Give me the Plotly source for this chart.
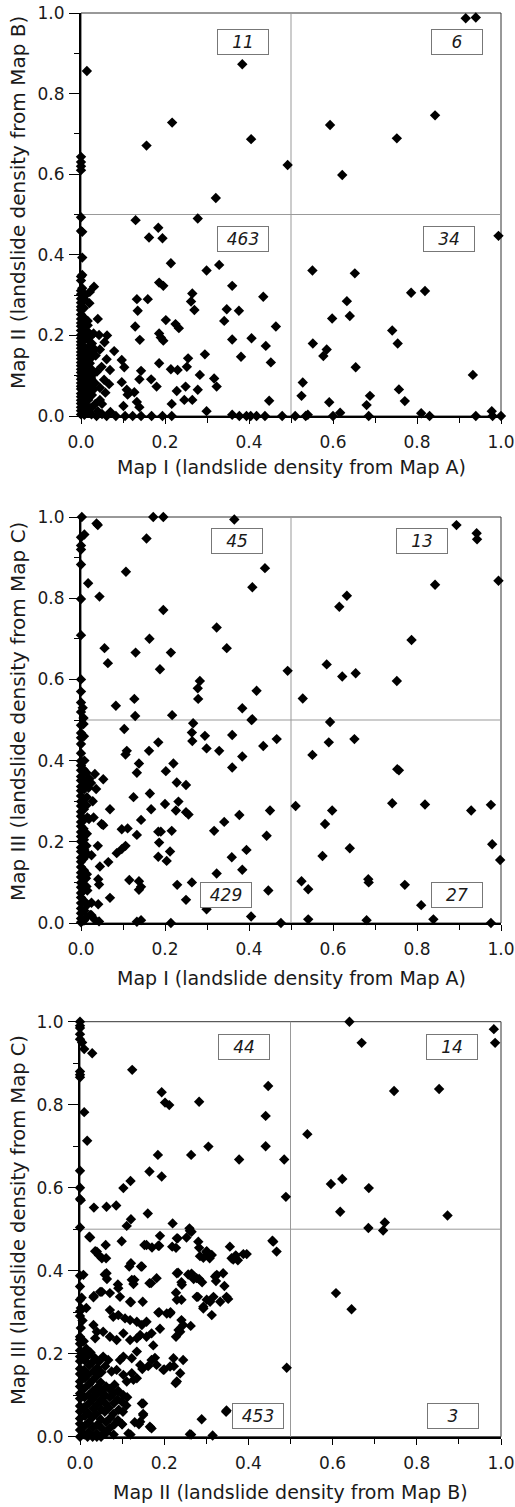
import plotly.graph_objects as go

# ---------------- data ----------------
tick_vals = [0.0, 0.2, 0.4, 0.6, 0.8, 1.0]
tick_text = ["0.0", "0.2", "0.4", "0.6", "0.8", "1.0"]
minor_vals = [0.1, 0.3, 0.5, 0.7, 0.9]
threshold = 0.5

x_titles = ["Map I (landslide density from Map A)",
            "Map I (landslide density from Map A)",
            "Map II (landslide density from Map B)"]
y_titles = ["Map II (landslide density from Map B)",
            "Map III (landslide density from Map C)",
            "Map III (landslide density from Map C)"]

# quadrant counts: UL, UR, LL, LR
p1_counts = ["11", "6", "463", "34"]
p2_counts = ["45", "13", "429", "27"]
p3_counts = ["44", "14", "453", "3"]

# ---- Plot 1: Map I (x) vs Map II (y)
p1_ul = [(0.014, 0.856), (0.0, 0.643), (0.0, 0.62), (0.0, 0.61), (0.0, 0.63), (0.156, 0.671),
         (0.217, 0.728), (0.384, 0.873), (0.405, 0.687), (0.321, 0.541), (0.492, 0.623)]
p1_ur = [(0.916, 0.987), (0.94, 0.989), (0.593, 0.722), (0.622, 0.598), (0.752, 0.689), (0.843, 0.746)]
p1_lr = [(0.994, 0.447), (0.551, 0.361), (0.652, 0.354), (0.633, 0.285), (0.640, 0.248), (0.598, 0.242),
         (0.552, 0.180), (0.585, 0.165), (0.577, 0.149), (0.654, 0.121), (0.786, 0.306), (0.819, 0.31),
         (0.741, 0.212), (0.754, 0.18), (0.757, 0.066), (0.771, 0.037), (0.933, 0.102), (0.528, 0.083),
         (0.525, 0.05), (0.591, 0.034), (0.688, 0.05), (0.680, 0.027), (0.617, 0.008), (0.81, 0.007),
         (0.978, 0.012), (0.51, 0.0), (0.535, 0.0), (0.54, 0.003), (0.60, 0.0), (0.685, 0.0),
         (0.83, 0.0), (0.94, 0.0), (0.98, 0.0), (1.0, 0.0)]
p1_ll = [(0.0, 0.493), (0.0, 0.459), (0.130, 0.486), (0.162, 0.443), (0.184, 0.467), (0.194, 0.441),
         (0.278, 0.49), (0.214, 0.379), (0.299, 0.361), (0.329, 0.375), (0.186, 0.331), (0.196, 0.323),
         (0.360, 0.323), (0.265, 0.304), (0.262, 0.284), (0.270, 0.263), (0.434, 0.296), (0.347, 0.265),
         (0.341, 0.236), (0.376, 0.261), (0.464, 0.222), (0.44, 0.174), (0.452, 0.133), (0.36, 0.19),
         (0.406, 0.193), (0.381, 0.147), (0.448, 0.038), (0.202, 0.238), (0.225, 0.228), (0.233, 0.218),
         (0.159, 0.29), (0.133, 0.29), (0.135, 0.261), (0.14, 0.189), (0.129, 0.222), (0.186, 0.205),
         (0.19, 0.195), (0.196, 0.187), (0.186, 0.131), (0.167, 0.091), (0.180, 0.073), (0.214, 0.116),
         (0.230, 0.114), (0.255, 0.143), (0.252, 0.122), (0.295, 0.153), (0.283, 0.102), (0.317, 0.093),
         (0.323, 0.073), (0.249, 0.073), (0.228, 0.062), (0.216, 0.03), (0.246, 0.04), (0.265, 0.04),
         (0.278, 0.065), (0.299, 0.012),
         (0.037, 0.0), (0.061, 0.0), (0.083, 0.0), (0.105, 0.0), (0.123, 0.0), (0.143, 0.0), (0.168, 0.0),
         (0.194, 0.0), (0.216, 0.0), (0.36, 0.003), (0.377, 0.0), (0.394, 0.0), (0.404, 0.0), (0.418, 0.0),
         (0.438, 0.0), (0.479, 0.0),
         (0.003, 0.457), (0.003, 0.393), (0.003, 0.35), (0.003, 0.317), (0.021, 0.308), (0.031, 0.321),
         (0.04, 0.241), (0.043, 0.201), (0.056, 0.183), (0.079, 0.161), (0.032, 0.166), (0.035, 0.15),
         (0.061, 0.141), (0.049, 0.122), (0.069, 0.114), (0.097, 0.139), (0.103, 0.121), (0.067, 0.079),
         (0.097, 0.084), (0.109, 0.065), (0.111, 0.053), (0.127, 0.059), (0.133, 0.035), (0.101, 0.025),
         (0.139, 0.022), (0.143, 0.112), (0.139, 0.091), (0.016, 0.236), (0.021, 0.131), (0.025, 0.1),
         (0.029, 0.065), (0.017, 0.04), (0.034, 0.03), (0.045, 0.04),
         (0.0, 0.004), (0.0, 0.013), (0.0, 0.022), (0.0, 0.031), (0.0, 0.039), (0.0, 0.048), (0.0, 0.056),
         (0.0, 0.067), (0.0, 0.074), (0.0, 0.082), (0.0, 0.091), (0.0, 0.099), (0.0, 0.108), (0.0, 0.116),
         (0.0, 0.125), (0.0, 0.133), (0.0, 0.142), (0.0, 0.151), (0.0, 0.159), (0.0, 0.168), (0.0, 0.176),
         (0.0, 0.184), (0.0, 0.193), (0.0, 0.201), (0.0, 0.212), (0.0, 0.223), (0.0, 0.231), (0.0, 0.241),
         (0.0, 0.252), (0.0, 0.263), (0.0, 0.271), (0.0, 0.281), (0.0, 0.291), (0.0, 0.302), (0.0, 0.311),
         (0.0, 0.336), (0.0, 0.346),
         (0.008, 0.003), (0.008, 0.018), (0.009, 0.034), (0.008, 0.05), (0.007, 0.062), (0.008, 0.078),
         (0.009, 0.093), (0.008, 0.11), (0.007, 0.127), (0.008, 0.144), (0.009, 0.16), (0.008, 0.171),
         (0.007, 0.188), (0.008, 0.205), (0.009, 0.22), (0.008, 0.243), (0.007, 0.268), (0.008, 0.29),
         (0.016, 0.008), (0.015, 0.025), (0.017, 0.044), (0.016, 0.058), (0.015, 0.07), (0.016, 0.088),
         (0.017, 0.104), (0.016, 0.12), (0.015, 0.137), (0.016, 0.152), (0.017, 0.17), (0.016, 0.19),
         (0.015, 0.21), (0.016, 0.225),
         (0.025, 0.004), (0.024, 0.02), (0.026, 0.052), (0.025, 0.075), (0.024, 0.094), (0.026, 0.115),
         (0.025, 0.145), (0.024, 0.16), (0.026, 0.18), (0.025, 0.2),
         (0.04, 0.012), (0.05, 0.005), (0.045, 0.07), (0.055, 0.09), (0.038, 0.11), (0.05, 0.03),
         (0.07, 0.01), (0.033, 0.082), (0.058, 0.058), (0.011, 0.3), (0.02, 0.28), (0.03, 0.205),
         (0.062, 0.2), (0.045, 0.165)]

# ---- Plot 2: Map I (x) vs Map III (y)
p2_ul = [(0.002, 1.0), (0.037, 0.984), (0.04, 0.98), (0.008, 0.957), (0.0, 0.93), (0.0, 0.92),
         (0.0, 0.883), (0.017, 0.837), (0.0, 0.798), (0.044, 0.804), (0.0, 0.709), (0.172, 1.0),
         (0.196, 1.0), (0.365, 0.994), (0.156, 0.947), (0.107, 0.865), (0.438, 0.874), (0.408, 0.827),
         (0.196, 0.771), (0.323, 0.728), (0.163, 0.7), (0.347, 0.677), (0.056, 0.677), (0.13, 0.666),
         (0.214, 0.666), (0.064, 0.64), (0.188, 0.625), (0.283, 0.596), (0.278, 0.578), (0.279, 0.552),
         (0.492, 0.621), (0.418, 0.572), (0.127, 0.552), (0.083, 0.535), (0.129, 0.51), (0.217, 0.512),
         (0.384, 0.529), (0.408, 0.502), (0.0, 0.57), (0.0, 0.543), (0.0, 0.52), (0.006, 0.505),
         (0.0, 0.95), (0.0, 0.6), (0.004, 0.53)]
p2_ur = [(0.894, 0.98), (0.942, 0.96), (0.943, 0.945), (0.994, 0.843), (0.843, 0.833), (0.633, 0.806),
         (0.615, 0.779), (0.787, 0.697), (0.585, 0.637), (0.622, 0.607), (0.654, 0.615), (0.752, 0.596),
         (0.528, 0.553)]
p2_lr = [(0.593, 0.495), (0.59, 0.445), (0.651, 0.453), (0.551, 0.414), (0.753, 0.379), (0.757, 0.376),
         (0.511, 0.288), (0.598, 0.277), (0.581, 0.244), (0.64, 0.184), (0.575, 0.165), (0.741, 0.295),
         (0.819, 0.292), (0.929, 0.277), (0.976, 0.291), (0.979, 0.194), (0.998, 0.155), (0.525, 0.103),
         (0.541, 0.083), (0.684, 0.108), (0.685, 0.1), (0.771, 0.094), (0.81, 0.044), (0.541, 0.009),
         (0.68, 0.007), (0.839, 0.009), (0.976, 0.0)]
p2_ll = [(0.103, 0.478), (0.267, 0.492), (0.264, 0.469), (0.265, 0.448), (0.295, 0.461), (0.299, 0.43),
         (0.329, 0.424), (0.36, 0.463), (0.384, 0.41), (0.36, 0.383), (0.406, 0.5), (0.434, 0.436),
         (0.466, 0.453), (0.109, 0.424), (0.106, 0.415), (0.162, 0.424), (0.184, 0.445), (0.138, 0.393),
         (0.133, 0.37), (0.22, 0.393), (0.202, 0.374), (0.228, 0.346), (0.25, 0.34), (0.164, 0.319),
         (0.125, 0.31), (0.2, 0.293), (0.232, 0.299), (0.226, 0.277), (0.25, 0.273), (0.256, 0.267),
         (0.167, 0.28), (0.143, 0.254), (0.069, 0.28), (0.053, 0.354), (0.033, 0.367), (0.036, 0.33),
         (0.049, 0.244), (0.097, 0.231), (0.111, 0.233), (0.133, 0.217), (0.184, 0.225), (0.19, 0.225),
         (0.216, 0.227), (0.186, 0.198), (0.212, 0.176), (0.184, 0.163), (0.204, 0.153), (0.106, 0.19),
         (0.097, 0.182), (0.085, 0.172), (0.065, 0.15), (0.045, 0.139), (0.025, 0.167), (0.317, 0.227),
         (0.341, 0.249), (0.377, 0.266), (0.45, 0.277), (0.442, 0.215), (0.394, 0.18), (0.359, 0.162),
         (0.384, 0.131), (0.323, 0.122), (0.264, 0.1), (0.229, 0.094), (0.25, 0.057), (0.299, 0.034),
         (0.405, 0.016), (0.446, 0.08), (0.115, 0.106), (0.138, 0.103), (0.143, 0.089), (0.138, 0.082),
         (0.069, 0.062), (0.041, 0.108), (0.043, 0.095), (0.041, 0.046), (0.025, 0.019), (0.033, 0.008),
         (0.043, 0.004), (0.133, 0.003), (0.143, 0.007), (0.214, 0.0), (0.476, 0.0), (0.053, 0.241),
         (0.019, 0.256), (0.04, 0.19), (0.018, 0.333), (0.028, 0.3), (0.03, 0.26), (0.024, 0.345),
         (0.02, 0.355), (0.022, 0.02), (0.025, 0.05), (0.012, 0.11), (0.015, 0.08),
         (0.0, 0.002), (0.0, 0.011), (0.0, 0.024), (0.0, 0.036), (0.0, 0.049), (0.0, 0.063), (0.0, 0.074),
         (0.0, 0.088), (0.0, 0.099), (0.0, 0.113), (0.0, 0.124), (0.0, 0.138), (0.0, 0.151), (0.0, 0.161),
         (0.0, 0.176), (0.0, 0.186), (0.0, 0.201), (0.0, 0.213), (0.0, 0.224), (0.0, 0.238), (0.0, 0.249),
         (0.0, 0.263), (0.0, 0.274), (0.0, 0.288), (0.0, 0.299), (0.0, 0.313), (0.0, 0.326), (0.0, 0.336),
         (0.0, 0.351), (0.0, 0.361), (0.0, 0.376), (0.0, 0.388), (0.0, 0.399), (0.0, 0.418), (0.0, 0.441),
         (0.0, 0.456), (0.0, 0.468), (0.0, 0.487),
         (0.007, 0.006), (0.008, 0.03), (0.007, 0.055), (0.006, 0.08), (0.008, 0.108), (0.007, 0.13),
         (0.006, 0.158), (0.008, 0.18), (0.007, 0.205), (0.006, 0.232), (0.008, 0.255), (0.007, 0.28),
         (0.006, 0.305), (0.008, 0.33), (0.007, 0.352), (0.006, 0.378), (0.008, 0.4), (0.007, 0.46),
         (0.006, 0.49),
         (0.014, 0.015), (0.015, 0.045), (0.013, 0.09), (0.014, 0.12), (0.015, 0.17), (0.013, 0.19),
         (0.014, 0.22), (0.015, 0.26), (0.013, 0.29), (0.014, 0.31), (0.015, 0.34), (0.013, 0.37)]

# ---- Plot 3: Map II (x) vs Map III (y)
p3_ul = [(0.0, 1.0), (0.0, 0.99), (0.0, 0.985), (0.0, 0.958), (0.01, 0.934), (0.029, 0.924),
         (0.0, 0.872), (0.0, 0.866), (0.01, 0.782), (0.017, 0.713), (0.0, 0.641), (0.0, 0.573),
         (0.002, 0.57), (0.033, 0.552), (0.063, 0.554), (0.086, 0.557), (0.103, 0.599), (0.12, 0.616),
         (0.124, 0.884), (0.165, 0.639), (0.185, 0.679), (0.194, 0.627), (0.194, 0.83), (0.202, 0.805),
         (0.212, 0.799), (0.283, 0.807), (0.264, 0.679), (0.305, 0.699), (0.378, 0.668), (0.447, 0.845),
         (0.441, 0.773), (0.441, 0.7), (0.485, 0.668), (0.489, 0.578), (0.161, 0.538), (0.121, 0.524),
         (0.111, 0.508), (0.22, 0.514), (0.0, 0.504), (0.26, 0.502), (0.0, 0.97), (0.0, 0.6),
         (0.0, 0.88), (0.005, 0.95)]
p3_ur = [(0.64, 1.0), (0.669, 0.949), (0.983, 0.982), (0.986, 0.949), (0.746, 0.833), (0.853, 0.838),
         (0.54, 0.729), (0.596, 0.609), (0.623, 0.621), (0.686, 0.599), (0.618, 0.542), (0.873, 0.533),
         (0.724, 0.516), (0.685, 0.503)]
p3_lr = [(0.608, 0.346), (0.645, 0.307), (0.72, 0.497)]
p3_ll = [(0.491, 0.166), (0.459, 0.47), (0.467, 0.446), (0.396, 0.44), (0.356, 0.458), (0.36, 0.43),
         (0.375, 0.425), (0.37, 0.437), (0.352, 0.332), (0.333, 0.325), (0.321, 0.386), (0.323, 0.375),
         (0.309, 0.325), (0.313, 0.293), (0.293, 0.309), (0.283, 0.455), (0.285, 0.435), (0.3, 0.445),
         (0.308, 0.43), (0.265, 0.494), (0.253, 0.48), (0.232, 0.478), (0.219, 0.458), (0.19, 0.484),
         (0.188, 0.46), (0.153, 0.462), (0.171, 0.456), (0.099, 0.471), (0.022, 0.482), (0.04, 0.446),
         (0.045, 0.437), (0.061, 0.462), (0.062, 0.43), (0.147, 0.41), (0.121, 0.418), (0.129, 0.378),
         (0.127, 0.368), (0.063, 0.394), (0.064, 0.38), (0.048, 0.349), (0.032, 0.336), (0.071, 0.346),
         (0.091, 0.358), (0.119, 0.325), (0.149, 0.325), (0.165, 0.37), (0.182, 0.382), (0.206, 0.297),
         (0.215, 0.3), (0.188, 0.3), (0.23, 0.394), (0.241, 0.372), (0.228, 0.347), (0.241, 0.33),
         (0.234, 0.257), (0.241, 0.281), (0.263, 0.267), (0.265, 0.393), (0.27, 0.38), (0.283, 0.38),
         (0.29, 0.372), (0.277, 0.337), (0.245, 0.185), (0.222, 0.189), (0.223, 0.17), (0.238, 0.153),
         (0.227, 0.129), (0.2, 0.162), (0.19, 0.26), (0.17, 0.249), (0.174, 0.22), (0.178, 0.19),
         (0.162, 0.17), (0.148, 0.163), (0.135, 0.205), (0.347, 0.06), (0.289, 0.042), (0.264, 0.005),
         (0.315, 0.003), (0.15, 0.08), (0.15, 0.055), (0.14, 0.03), (0.17, 0.02), (0.13, 0.035),
         (0.12, 0.005), (0.1, 0.03), (0.063, 0.01),
         (0.024, 0.48), (0.036, 0.447), (0.052, 0.43), (0.158, 0.462), (0.186, 0.46), (0.23, 0.478),
         (0.228, 0.455), (0.261, 0.496), (0.281, 0.47), (0.301, 0.447), (0.293, 0.431), (0.313, 0.438),
         (0.364, 0.427), (0.388, 0.44), (0.457, 0.472), (0.117, 0.41), (0.145, 0.41), (0.008, 0.39),
         (0.059, 0.391), (0.09, 0.367), (0.123, 0.378), (0.169, 0.37), (0.233, 0.395), (0.257, 0.391),
         (0.242, 0.366), (0.277, 0.382), (0.325, 0.39), (0.34, 0.394), (0.343, 0.363), (0.033, 0.339),
         (0.052, 0.349), (0.095, 0.337), (0.121, 0.324), (0.23, 0.33), (0.28, 0.337), (0.301, 0.33),
         (0.317, 0.337), (0.293, 0.313), (0.348, 0.337), (0.015, 0.31), (0.071, 0.305), (0.079, 0.289),
         (0.091, 0.293), (0.107, 0.285), (0.119, 0.281), (0.186, 0.299), (0.214, 0.297), (0.147, 0.269),
         (0.158, 0.277), (0.135, 0.277), (0.228, 0.241), (0.245, 0.269), (0.238, 0.253), (0.032, 0.269),
         (0.04, 0.253), (0.055, 0.253), (0.036, 0.237), (0.071, 0.241), (0.087, 0.233), (0.103, 0.249),
         (0.119, 0.233), (0.135, 0.237), (0.143, 0.245), (0.158, 0.241), (0.055, 0.193), (0.067, 0.185),
         (0.095, 0.185), (0.103, 0.193), (0.123, 0.189), (0.143, 0.173), (0.17, 0.185), (0.182, 0.173),
         (0.198, 0.161), (0.214, 0.169), (0.23, 0.133), (0.075, 0.157), (0.087, 0.161), (0.103, 0.149),
         (0.123, 0.153), (0.127, 0.137), (0.111, 0.133), (0.135, 0.141), (0.147, 0.08), (0.15, 0.052),
         (0.143, 0.036), (0.166, 0.024), (0.115, 0.008), (0.348, 0.063), (0.261, 0.006),
         (0.0, 0.0), (0.0, 0.016), (0.0, 0.031), (0.0, 0.044), (0.0, 0.061), (0.0, 0.074), (0.0, 0.092),
         (0.0, 0.104), (0.0, 0.121), (0.0, 0.133), (0.0, 0.151), (0.0, 0.164), (0.0, 0.182), (0.0, 0.193),
         (0.0, 0.208), (0.0, 0.234), (0.0, 0.241), (0.0, 0.291), (0.0, 0.302), (0.0, 0.33), (0.0, 0.362),
         (0.0, 0.388), (0.002, 0.31), (0.004, 0.335), (0.0, 0.224), (0.002, 0.262),
         (0.01, 0.005), (0.011, 0.026), (0.012, 0.05), (0.01, 0.071), (0.011, 0.095), (0.01, 0.116),
         (0.012, 0.141), (0.01, 0.161), (0.011, 0.184), (0.012, 0.2),
         (0.02, 0.011), (0.021, 0.035), (0.019, 0.058), (0.022, 0.081), (0.02, 0.1), (0.021, 0.126),
         (0.019, 0.15), (0.022, 0.172), (0.02, 0.196),
         (0.03, 0.0), (0.031, 0.022), (0.029, 0.046), (0.032, 0.068), (0.03, 0.09), (0.031, 0.111),
         (0.029, 0.135), (0.032, 0.158), (0.03, 0.18),
         (0.04, 0.008), (0.042, 0.03), (0.039, 0.055), (0.041, 0.078), (0.04, 0.101), (0.042, 0.12),
         (0.039, 0.145), (0.041, 0.166),
         (0.05, 0.0), (0.052, 0.02), (0.049, 0.042), (0.051, 0.066), (0.05, 0.088), (0.052, 0.11),
         (0.049, 0.131), (0.051, 0.155),
         (0.06, 0.01), (0.062, 0.035), (0.059, 0.06), (0.061, 0.08), (0.06, 0.1), (0.062, 0.121),
         (0.07, 0.02), (0.072, 0.045), (0.069, 0.07), (0.071, 0.095), (0.07, 0.115),
         (0.08, 0.005), (0.082, 0.03), (0.079, 0.055), (0.081, 0.081), (0.08, 0.104), (0.082, 0.125),
         (0.09, 0.04), (0.092, 0.065), (0.089, 0.09), (0.091, 0.11),
         (0.1, 0.03), (0.102, 0.06), (0.099, 0.085), (0.103, 0.1), (0.11, 0.075), (0.112, 0.095),
         (0.015, 0.212), (0.025, 0.203), (0.035, 0.19), (0.045, 0.181), (0.06, 0.17), (0.009, 0.23),
         (0.018, 0.0), (0.04, 0.0), (0.006, 0.28)]

# ---------------- figure ----------------
W, H = 515, 1507
FONT = "DejaVu Sans"
TXT = "#1a1a1a"

plots = [
    dict(pts=p1_ul + p1_ur + p1_lr + p1_ll, counts=p1_counts,
         xdom=[81 / W, 501 / W], ydom=[1 - 416 / H, 1 - 13 / H],
         cpos=[(0.386, 0.928), (0.895, 0.928), (0.386, 0.44), (0.875, 0.44)],
         xt_y=1 - 467 / H, yt_y=1 - 203 / H),
    dict(pts=p2_ul + p2_ur + p2_lr + p2_ll, counts=p2_counts,
         xdom=[81 / W, 501 / W], ydom=[1 - 923 / H, 1 - 517 / H],
         cpos=[(0.371, 0.941), (0.813, 0.941), (0.346, 0.068), (0.895, 0.068)],
         xt_y=1 - 978 / H, yt_y=1 - 712 / H),
    dict(pts=p3_ul + p3_ur + p3_lr + p3_ll, counts=p3_counts,
         xdom=[80 / W, 501 / W], ydom=[1 - 1436.7 / H, 1 - 1021.7 / H],
         cpos=[(0.39, 0.94), (0.884, 0.94), (0.423, 0.05), (0.886, 0.05)],
         xt_y=1 - 1491.5 / H, yt_y=1 - 1220 / H),
]

fig = go.Figure()
annotations = []
shapes = []
layout_axes = {}

for i, p in enumerate(plots):
    n = "" if i == 0 else str(i + 1)
    xa, ya = "x" + n, "y" + n
    xs = [q[0] for q in p["pts"]]
    ys = [q[1] for q in p["pts"]]
    fig.add_trace(go.Scatter(
        x=xs, y=ys, mode="markers", xaxis=xa, yaxis=ya, cliponaxis=False,
        marker=dict(symbol="diamond", size=8, color="black", line=dict(width=0)),
        showlegend=False, hoverinfo="skip"))

    common = dict(range=[0, 1], showgrid=False, zeroline=False, showline=True,
                  linecolor="black", linewidth=2, ticks="outside", tickcolor="black",
                  tickwidth=1, tickvals=tick_vals, ticktext=tick_text,
                  tickfont=dict(family=FONT, size=17, color=TXT),
                  minor=dict(tickvals=minor_vals, ticks="outside", ticklen=5,
                             tickcolor="black", tickwidth=1))
    layout_axes["xaxis" + n] = dict(common, domain=p["xdom"], anchor=ya, ticklen=6,
                                    ticklabelstandoff=4)
    layout_axes["yaxis" + n] = dict(common, domain=p["ydom"], anchor=xa, ticklen=10,
                                    ticklabelstandoff=1)

    # thin frame
    shapes.append(dict(type="rect", xref=xa + " domain", yref=ya + " domain",
                       x0=0, x1=1, y0=0, y1=1, line=dict(color="#333", width=1), layer="below"))
    # quadrant lines
    shapes.append(dict(type="line", xref=xa, yref=ya + " domain", x0=threshold, x1=threshold,
                       y0=0, y1=1, line=dict(color="#999", width=1), layer="below"))
    shapes.append(dict(type="line", xref=xa + " domain", yref=ya, x0=0, x1=1,
                       y0=threshold, y1=threshold, line=dict(color="#999", width=1), layer="below"))

    # quadrant counts
    for txt, (cx, cy) in zip(p["counts"], p["cpos"]):
        annotations.append(dict(
            x=cx, y=cy, xref=xa, yref=ya, text=txt, showarrow=False,
            font=dict(family=FONT, size=17, color=TXT, style="italic"),
            width=46, height=20, borderpad=2, bordercolor="#777", borderwidth=1,
            bgcolor="white", xanchor="center", yanchor="middle"))

    # axis titles
    annotations.append(dict(
        x=(p["xdom"][0] + p["xdom"][1]) / 2, y=p["xt_y"], xref="paper", yref="paper",
        text=x_titles[i], showarrow=False, xanchor="center", yanchor="middle",
        font=dict(family=FONT, size=19, color=TXT)))
    annotations.append(dict(
        x=18 / W, y=p["yt_y"], xref="paper", yref="paper", text=y_titles[i],
        showarrow=False, textangle=-90, xanchor="center", yanchor="middle",
        font=dict(family=FONT, size=20 if i < 2 else 19.5, color=TXT)))

fig.update_layout(
    width=W, height=H, margin=dict(l=0, r=0, t=0, b=0, autoexpand=False),
    paper_bgcolor="white", plot_bgcolor="white",
    annotations=annotations, shapes=shapes, **layout_axes)

fig.write_html("out.html")
